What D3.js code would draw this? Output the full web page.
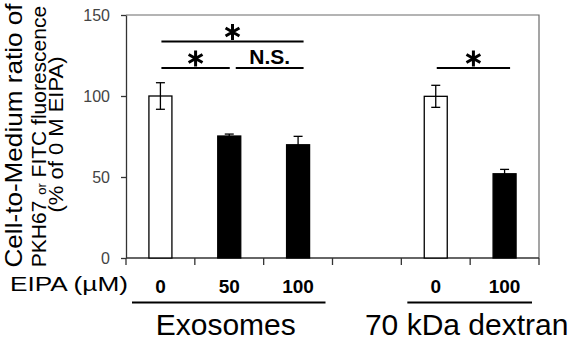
<!DOCTYPE html>
<html>
<head>
    <title>EIPA uptake</title>
    <script src="https://cdn.jsdelivr.net/npm/d3@7/dist/d3.min.js"></script>
    <style>
        body { margin: 0; background: white; }
        text { font-family: "Liberation Sans", Arial, sans-serif; }
    </style>
</head>
<body>
    <svg width="570" height="346"></svg>
    <script>
        // data
        const slots = ['Exo 0', 'Exo 50', 'Exo 100', 'gap', 'Dex 0', 'Dex 100'];
        const doseLabels = ['0', '50', '100', '', '0', '100'];
        const doses = [0, 50, 100, null, 0, 100];
        const means = [100, 75.3, 69.9, null, 99.8, 52];
        const errs = [8.2, 1.2, 5.2, null, 6.8, 2.7];
        const yTicks = [0, 50, 100, 150];
        const groupNames = ['Exosomes', '70 kDa dextran'];
        const groupFirst = ['Exo 0', 'Dex 0'];
        const groupLast = ['Exo 100', 'Dex 100'];
        const compFrom = ['Exo 0', 'Exo 0', 'Exo 50', 'Dex 0'];
        const compTo = ['Exo 100', 'Exo 50', 'Exo 100', 'Dex 100'];
        const compRow = [0, 1, 1, 1];
        const compMark = ['*', '*', 'N.S.', '*'];

        const plotL = 126, plotR = 539, plotT = 15, plotB = 258;
        const rowY = [41.5, 68];
        const font = '"Liberation Sans", Arial, sans-serif';

        const svg = d3.select('svg');

        const x = d3.scaleBand().domain(slots).range([plotL, plotR]).padding(0);
        const y = d3.scaleLinear().domain([0, 150]).range([plotB, plotT]);
        const bw = x.bandwidth();
        const barW = 23;
        const cx = s => x(s) + bw / 2;

        // frame (top + right)
        svg.append('path')
            .attr('d', `M${plotL},${plotT}H${plotR}V${plotB}`)
            .attr('fill', 'none')
            .attr('stroke', '#6a6a6a')
            .attr('stroke-width', 1.2);

        // y axis
        const yAxis = svg.append('g')
            .attr('transform', `translate(${plotL},0)`)
            .call(d3.axisLeft(y).tickValues(yTicks).tickSize(5).tickSizeOuter(0).tickPadding(11));
        yAxis.select('.domain').attr('stroke', '#333').attr('stroke-width', 1.3);
        yAxis.selectAll('.tick line').attr('stroke', '#333').attr('stroke-width', 1.3);
        yAxis.selectAll('.tick text')
            .attr('fill', '#444')
            .style('font-size', '16px')
            .style('font-family', font);

        // x axis line with ticks at band edges
        const edges = slots.map(s => x(s)).concat([plotR]);
        svg.append('line')
            .attr('x1', plotL).attr('x2', plotR)
            .attr('y1', plotB).attr('y2', plotB)
            .attr('stroke', '#333').attr('stroke-width', 1.3);
        svg.selectAll('.xtick')
            .data(edges)
            .join('line')
            .attr('class', 'xtick')
            .attr('x1', d => d).attr('x2', d => d)
            .attr('y1', plotB).attr('y2', plotB + 7)
            .attr('stroke', '#333').attr('stroke-width', 1.3);

        const rows = slots.map((s, i) => ({ slot: s, dose: doses[i], mean: means[i], err: errs[i], label: doseLabels[i] }))
            .filter(d => d.mean !== null);

        // bars
        svg.selectAll('.bar')
            .data(rows)
            .join('rect')
            .attr('class', 'bar')
            .attr('x', d => cx(d.slot) - barW / 2)
            .attr('width', barW)
            .attr('y', d => y(d.mean))
            .attr('height', d => y(0) - y(d.mean))
            .attr('fill', d => d.dose === 0 ? 'white' : 'black')
            .attr('stroke', '#000')
            .attr('stroke-width', 1.3);

        // error bars
        const eb = svg.selectAll('.eb').data(rows).join('g').attr('class', 'eb');
        eb.append('line')
            .attr('x1', d => cx(d.slot)).attr('x2', d => cx(d.slot))
            .attr('y1', d => y(d.mean + d.err)).attr('y2', d => y(d.mean - d.err))
            .attr('stroke', '#000').attr('stroke-width', 1.3);
        [1, -1].forEach(sgn => {
            eb.append('line')
                .attr('x1', d => cx(d.slot) - 4.5).attr('x2', d => cx(d.slot) + 4.5)
                .attr('y1', d => y(d.mean + sgn * d.err)).attr('y2', d => y(d.mean + sgn * d.err))
                .attr('stroke', '#000').attr('stroke-width', 1.3);
        });

        // significance brackets
        const comps = compFrom.map((f, i) => ({ from: f, to: compTo[i], row: compRow[i], mark: compMark[i] }));
        comps.forEach(c => {
            c.sharedStart = comps.some(o => o !== c && o.row === c.row && o.to === c.from);
            c.sharedEnd = comps.some(o => o !== c && o.row === c.row && o.from === c.to);
            c.x1 = cx(c.from) + (c.sharedStart ? 6.5 : 1);
            c.x2 = cx(c.to) + (c.sharedEnd ? 0.5 : 5.5);
            c.y = rowY[c.row];
        });
        svg.selectAll('.sig')
            .data(comps)
            .join('line')
            .attr('class', 'sig')
            .attr('x1', d => d.x1).attr('x2', d => d.x2)
            .attr('y1', d => d.y).attr('y2', d => d.y)
            .attr('stroke', '#000').attr('stroke-width', 2.2);

        const r = 8;
        const a30 = Math.PI / 6;
        const star = `M0,${-r}V${r}` +
            `M${-r * Math.cos(a30)},${-r * Math.sin(a30)}L${r * Math.cos(a30)},${r * Math.sin(a30)}` +
            `M${-r * Math.cos(a30)},${r * Math.sin(a30)}L${r * Math.cos(a30)},${-r * Math.sin(a30)}`;
        svg.selectAll('.star')
            .data(comps.filter(d => d.mark === '*'))
            .join('path')
            .attr('class', 'star')
            .attr('transform', d => `translate(${(d.x1 + d.x2) / 2},${d.y - 9.5})`)
            .attr('d', star)
            .attr('stroke', '#000')
            .attr('stroke-width', 3);
        svg.selectAll('.ns')
            .data(comps.filter(d => d.mark !== '*'))
            .join('text')
            .attr('class', 'ns')
            .attr('x', d => (d.x1 + d.x2) / 2)
            .attr('y', d => d.y - 4)
            .attr('text-anchor', 'middle')
            .style('font-size', '21px')
            .style('font-weight', 'bold')
            .text(d => d.mark);

        // dose labels under axis
        svg.selectAll('.dose')
            .data(rows)
            .join('text')
            .attr('class', 'dose')
            .attr('x', d => cx(d.slot))
            .attr('y', 293)
            .attr('text-anchor', 'middle')
            .style('font-size', '19px')
            .style('font-weight', 'bold')
            .text(d => d.label);

        svg.append('text')
            .attr('x', 10).attr('y', 291)
            .attr('textLength', 118)
            .attr('lengthAdjust', 'spacingAndGlyphs')
            .style('font-size', '21px')
            .text('EIPA (\u00b5M)');

        // group underlines and names
        const groups = groupNames.map((g, i) => ({
            name: g,
            x1: x(groupFirst[i]) + 6,
            x2: x(groupLast[i]) + bw - 7
        }));
        svg.selectAll('.gline')
            .data(groups)
            .join('line')
            .attr('class', 'gline')
            .attr('x1', d => d.x1).attr('x2', d => d.x2)
            .attr('y1', 302.5).attr('y2', 302.5)
            .attr('stroke', '#000').attr('stroke-width', 2.2);
        svg.selectAll('.gname')
            .data(groups)
            .join('text')
            .attr('class', 'gname')
            .attr('x', d => (d.x1 + d.x2) / 2 - 3)
            .attr('y', 335)
            .attr('text-anchor', 'middle')
            .style('font-size', '30px')
            .text(d => d.name);

        // y title, three rotated lines
        const cyT = 135.5;
        svg.append('text')
            .attr('transform', `translate(22,${cyT}) rotate(-90)`)
            .attr('text-anchor', 'middle')
            .attr('textLength', 264)
            .attr('lengthAdjust', 'spacingAndGlyphs')
            .style('font-size', '24px')
            .text('Cell-to-Medium ratio of');

        const t2 = svg.append('text')
            .attr('transform', `translate(46,${cyT + 1}) rotate(-90)`)
            .attr('text-anchor', 'middle')
            .style('font-size', '21px');
        t2.append('tspan').text('PKH67 ');
        t2.append('tspan').style('font-size', '13px').text('or');
        t2.append('tspan').text(' FITC fluorescence');

        svg.append('text')
            .attr('transform', `translate(63,${cyT - 1}) rotate(-90)`)
            .attr('text-anchor', 'middle')
            .attr('textLength', 156)
            .attr('lengthAdjust', 'spacingAndGlyphs')
            .style('font-size', '20px')
            .text('(% of 0 M EIPA)');
    </script>
</body>
</html>
